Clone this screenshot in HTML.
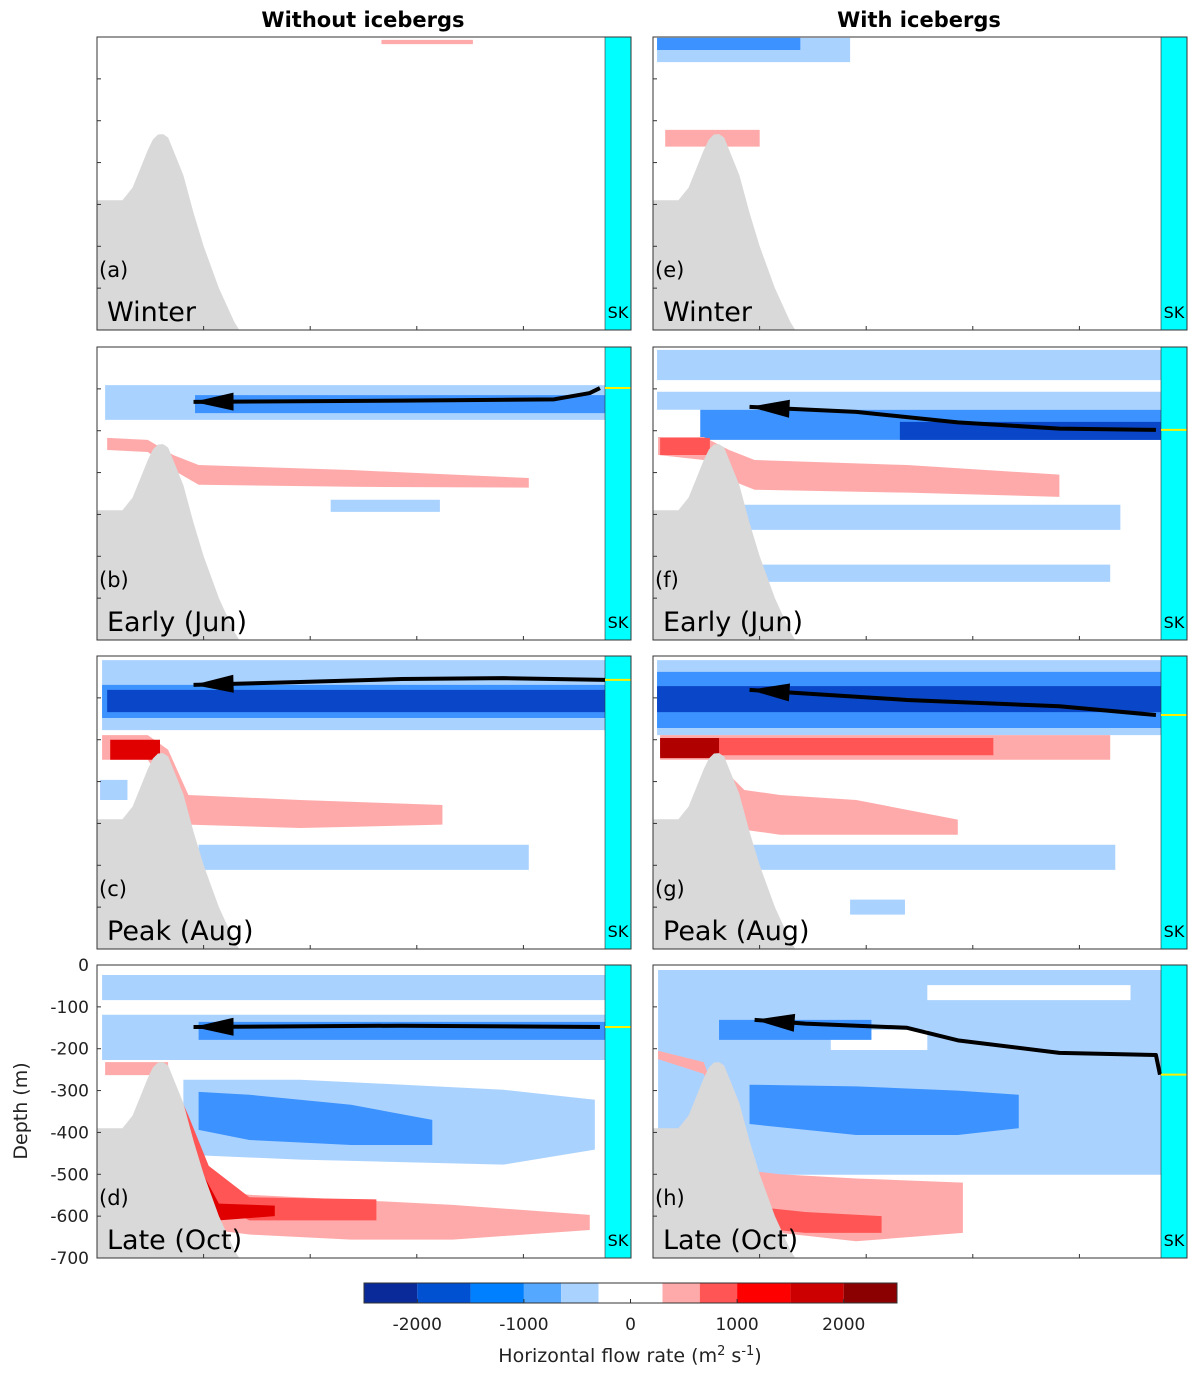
<!DOCTYPE html>
<html><head><meta charset="utf-8"><style>
html,body{margin:0;padding:0;background:#fff;}
svg{display:block;font-family:"DejaVu Sans","Liberation Sans",sans-serif;}
</style></head><body>
<svg id="fig" width="1197" height="1376" viewBox="0 0 1197 1376"></svg>
<script>
// ---- data (distance km 0-100 along section, depth m positive down) ----
const panelIds = ['a','b','c','d','e','f','g','h'];
const panelSeasons = ['Winter','Early (Jun)','Peak (Aug)','Late (Oct)','Winter','Early (Jun)','Peak (Aug)','Late (Oct)'];
const depthTicks = [0,100,200,300,400,500,600,700];
const cbarTicks = [-2000,-1000,0,1000,2000];
const cbarLevels = [-2500,-2000,-1500,-1000,-650,-300,300,650,1000,1500,2000,2500];
const cbarColors = ['#0a2a9a','#0050d2','#0080ff','#55a8ff','#aad2ff','#ffffff','#ffaaaa','#ff5555','#ff0000','#cc0000','#8b0000'];
const sillKm = [0,5,7,9,10,11,12,13,14,15,17,19,21,24,27,28];
const sillDepth = [390,390,360,300,270,245,233,232,240,270,330,420,500,600,680,700];
// bands: [level, xs, tops, bottoms]
const bandsA = [[1,[56,74],[7,7],[17,17]]];
const bandsB = [
 [-1,[1.6,100],[91,91],[174,174]],
 [-2,[19.3,100],[115,115],[158,158]],
 [1,[2,10,15,20,50,85],[217,222,258,282,294,313],[246,251,294,329,334,336]],
 [-1,[46,67.5],[365,365],[394,394]]];
const bandsC = [
 [-1,[1,100],[10,10],[177,177]],
 [-2,[1,100],[69,69],[148,148]],
 [-3,[2,100],[81,81],[134,134]],
 [1,[1,10,14,18,40,68],[189,189,224,332,344,356],[248,248,320,403,411,403]],
 [3,[2.6,12.4],[200,200],[248,248]],
 [-1,[20,85],[451,451],[511,511]],
 [-1,[0.6,6],[296,296],[344,344]]];
const bandsD = [
 [-1,[1,100],[24,24],[84,84]],
 [-1,[1,100],[119,119],[227,227]],
 [-2,[20,100],[136,136],[179,179]],
 [1,[1.6,14],[232,232],[263,263]],
 [-1,[17,40,80,98],[274,274,298,322],[453,465,477,441]],
 [-2,[20,30,50,66],[303,310,334,370],[394,418,430,430]],
 [1,[12,16,20,23,30,50,70,97],[239,322,441,537,549,561,573,597],[274,370,513,633,644,656,656,633]],
 [2,[14,18,22,30,55],[250,360,480,555,560],[270,400,560,610,610]],
 [3,[17,20,24,35],[400,480,570,575],[430,520,610,600]]];
const bandsE = [
 [-1,[0.8,38.8],[2,2],[60,60]],
 [-2,[0.8,29],[2,2],[31,31]],
 [1,[2.4,21],[222,222],[262,262]]];
const bandsF = [
 [-1,[0.8,100],[7,7],[79,79]],
 [-1,[0.8,100],[107,107],[150,150]],
 [-2,[9.3,100],[150,150],[222,222]],
 [-3,[48.6,100],[179,179],[222,222]],
 [1,[1,10,15,20,50,80],[215,215,246,270,282,305],[258,270,317,341,348,358]],
 [2,[1.4,11.2],[217,217],[258,258]],
 [-1,[16,92],[377,377],[437,437]],
 [-1,[20,90],[520,520],[561,561]]];
const bandsG = [
 [-1,[0.8,100],[10,10],[189,189]],
 [-2,[0.8,100],[38,38],[172,172]],
 [-3,[0.8,100],[72,72],[134,134]],
 [1,[1.4,90],[189,189],[248,248]],
 [2,[1.4,67],[196,196],[237,237]],
 [4,[1.4,13],[196,196],[244,244]],
 [1,[14,18,25,40,60],[272,320,332,344,391],[320,415,427,427,427]],
 [-1,[18,91],[451,451],[511,511]],
 [-1,[38.8,49.6],[582,582],[618,618]]];
const bandsH = [
 [-1,[1,100],[12,12],[501,501]],
 [0,[54,94],[48,48],[84,84]],
 [0,[35,54],[155,155],[203,203]],
 [-2,[13,43],[131,131],[179,179]],
 [-2,[19,40,60,72],[286,290,300,310],[380,406,406,390]],
 [1,[1,10,14,18,25,40,61],[205,232,370,490,500,510,520],[225,260,400,580,640,660,640]],
 [2,[14,18,22,30,45],[390,500,580,590,600],[420,560,630,640,640]],
 [3,[12,16,20,24],[260,370,520,600],[280,400,580,630]]];
const allBands = [bandsA,bandsB,bandsC,bandsD,bandsE,bandsF,bandsG,bandsH];
// flow-core arrows: [km, depth] from outlet towards inland
const arrowB = [[99,98],[97,110],[90,125],[60,128],[19,131]];
const arrowC = [[100,57],[80,53],[60,55],[40,62],[19,69]];
const arrowD = [[99,148],[60,145],[19,148]];
const arrowF = [[99,198],[80,195],[60,180],[40,155],[19,143]];
const arrowG = [[99,141],[80,120],[50,105],[19,81]];
const arrowH = [[99.8,262],[99,215],[80,210],[60,180],[50,150],[30,140],[20,131]];
const allArrows = [null,arrowB,arrowC,arrowD,null,arrowF,arrowG,arrowH];

// ---- drawing ----
const NS='http://www.w3.org/2000/svg';
const svg=document.getElementById('fig');
function mk(tag,attrs,parent){const e=document.createElementNS(NS,tag);for(const k in attrs)e.setAttribute(k,attrs[k]);(parent||svg).appendChild(e);return e;}
const rowTops=[37,347,656,965], colLefts=[97,653];
const PW=508, PH=293, STRIP=26, pxPerKm=PW/100, pxPerM=PH/700;
const levelColor={'-3':'#0a46c8','-2':'#3c92ff','-1':'#aad2ff','0':'#ffffff','1':'#ffaaaa','2':'#ff5555','3':'#e00000','4':'#b00000'};

for(let p=0;p<8;p++){
  const col=p<4?0:1,row=p%4;
  const L=colLefts[col],T=rowTops[row];
  const xs=km=>L+km*pxPerKm, ys=d=>T+d*pxPerM;
  const g=mk('g',{});
  
  
  mk('rect',{x:L,y:T,width:PW+STRIP,height:PH,fill:'#fff'},g);
  allBands[p].forEach((b,i)=>{
    const [lv,bx,bt,bb]=b;
    let pts=bx.map((k,j)=>xs(k)+','+ys(bt[j]));
    pts=pts.concat(bx.map((k,j)=>xs(k)+','+ys(bb[j])).reverse());
    const poly=mk('polygon',{points:pts.join(' '),fill:levelColor[lv],stroke:'none'},g);
    
    
  });
  let sp=sillKm.map((k,j)=>xs(k)+','+ys(sillDepth[j]));
  sp.push(xs(sillKm[sillKm.length-1])+','+ys(700)); sp.push(xs(0)+','+ys(700));
  const sill=mk('polygon',{points:sp.join(' '),fill:'#d9d9d9'},g);
  
  
  const st=mk('rect',{x:L+PW,y:T,width:STRIP,height:PH,fill:'#00ffff',stroke:'#333','stroke-width':0.6},g);
  
  
  const sk=mk('text',{x:L+PW+STRIP/2,y:T+PH-12,'font-size':16,'text-anchor':'middle',fill:'#000'},g);
  sk.textContent='SK';
  
  
  const ar=allArrows[p];
  if(ar){
    const line=mk('polyline',{points:ar.map(a=>xs(a[0])+','+ys(a[1])).join(' '),fill:'none',stroke:'#000','stroke-width':4,'stroke-linejoin':'round'},g);
    
    
    const tip=ar[ar.length-1],prev=ar[ar.length-2];
    const ang=Math.atan2(ys(tip[1])-ys(prev[1]),xs(tip[0])-xs(prev[0]));
    const tx=xs(tip[0]),ty=ys(tip[1]),c=Math.cos(ang),s=Math.sin(ang);
    const hp=[[tx,ty],[tx-40*c+9*s,ty-40*s-9*c],[tx-40*c-9*s,ty-40*s+9*c]];
    const head=mk('polygon',{points:hp.map(q=>q.join(',')).join(' '),fill:'#000'},g);
    
    
    const yl=mk('line',{x1:L+PW,x2:L+PW+STRIP,y1:ys(ar[0][1]),y2:ys(ar[0][1]),stroke:'#ffee00','stroke-width':2},g);
    
    
  }
  mk('rect',{x:L,y:T,width:PW+STRIP,height:PH,fill:'none',stroke:'#333','stroke-width':1},g);
  depthTicks.forEach(d=>{mk('line',{x1:L,x2:L+4,y1:ys(d),y2:ys(d),stroke:'#333'},g);});
  [1,2,3,4].forEach(k=>{const x=L+k*PW/5*1.0+ (k*5);mk('line',{x1:x,x2:x,y1:T+PH,y2:T+PH-4,stroke:'#333'},g);});
  const pl=mk('text',{x:L+2,y:T+240,'font-size':21,fill:'#000'},g);
  pl.textContent='('+panelIds[p]+')';
  
  
  const sl=mk('text',{x:L+10,y:T+284,'font-size':27,fill:'#000'},g);
  sl.textContent=panelSeasons[p];
  
  
  if(p===3){
    depthTicks.forEach(d=>{
      const t=mk('text',{x:L-8,y:ys(d)+6,'font-size':17,'text-anchor':'end',fill:'#222'});
      t.textContent=d===0?'0':'-'+d;
      
      
    });
  }
}
const yt=mk('text',{x:27,y:1111,'font-size':19,'text-anchor':'middle',transform:'rotate(-90 27 1111)',fill:'#222'});
yt.textContent='Depth (m)';


[['Without icebergs',363],['With icebergs',919]].forEach(([s,x])=>{
  const t=mk('text',{x:x,y:27,'font-size':21,'font-weight':'bold','text-anchor':'middle',fill:'#000'});
  t.textContent=s;
  
  
});
const cbL=364,cbR=897,cbT=1283,cbH=20;
const cx=v=>cbL+(v-cbarLevels[0])/(cbarLevels[cbarLevels.length-1]-cbarLevels[0])*(cbR-cbL);
for(let i=0;i<cbarColors.length;i++){
  const r=mk('rect',{x:cx(cbarLevels[i]),y:cbT,width:cx(cbarLevels[i+1])-cx(cbarLevels[i]),height:cbH,fill:cbarColors[i]});
  
  
}
mk('rect',{x:cbL,y:cbT,width:cbR-cbL,height:cbH,fill:'none',stroke:'#333'});
cbarTicks.forEach(v=>{
  mk('line',{x1:cx(v),x2:cx(v),y1:cbT+cbH,y2:cbT+cbH-4,stroke:'#333'});
  const t=mk('text',{x:cx(v),y:1330,'font-size':17,'text-anchor':'middle',fill:'#222'});
  t.textContent=String(v);
  
  
});
const cl=mk('text',{x:630,y:1362,'font-size':19,'text-anchor':'middle',fill:'#222'});
cl.innerHTML='Horizontal flow rate (m<tspan dy="-7" font-size="13">2</tspan><tspan dy="7"> s</tspan><tspan dy="-7" font-size="13">-1</tspan><tspan dy="7">)</tspan>';


</script>
</body></html>
